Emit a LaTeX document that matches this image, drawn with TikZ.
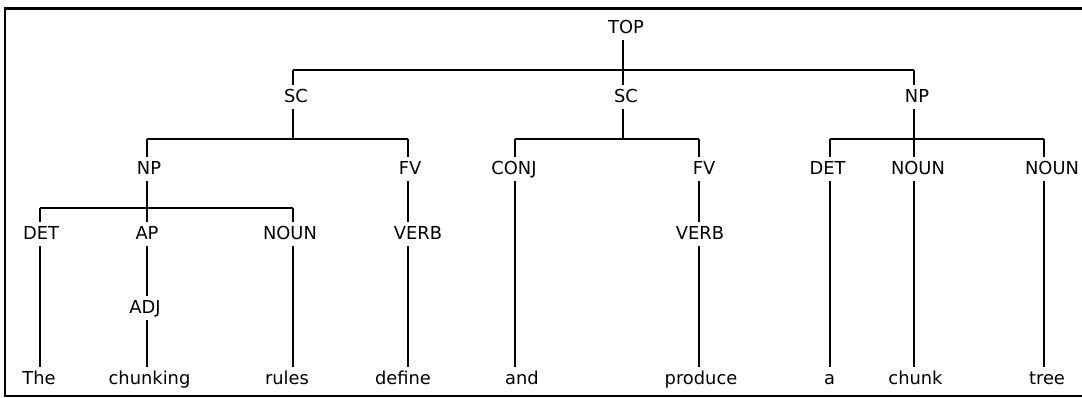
\documentclass[tikz,border=0pt]{standalone}
\usepackage{fontspec}
\setmainfont{DejaVu Sans}
\begin{document}
\begin{tikzpicture}[x=0.75pt,y=-0.75pt,
  lbl/.style={font=\fontsize{13.4pt}{16pt}\selectfont, inner xsep=0pt, inner ysep=2.75pt,
              text height=10pt, text depth=2.5pt, anchor=base},
  edge/.style={draw=black, line width=1pt}]
\useasboundingbox (0,0) rectangle (1082,397);
% frame
\draw[line width=2.25pt] (3.5,8.3) -- (1082,8.3);
\draw[line width=1.5pt] (5,7.5) -- (5,397);
\draw[line width=1.5pt] (4.5,396) -- (1082,396);
% stem columns
\coordinate (c1) at (40,0);
\coordinate (c2) at (147,0);
\coordinate (c3) at (293,0);
\coordinate (c4) at (408,0);
\coordinate (c5) at (515,0);
\coordinate (c6) at (623,0);
\coordinate (c7) at (699,0);
\coordinate (c8) at (830,0);
\coordinate (c9) at (914,0);
\coordinate (c10) at (1044,0);
% bar levels
\coordinate (b0) at (0,70);
\coordinate (b1) at (0,139);
\coordinate (b2) at (0,208);
% nodes
\node[lbl] (top) at (626,33) {TOP};
\node[lbl] (sc1) at (296,102) {SC};
\node[lbl] (sc2) at (626,102) {SC};
\node[lbl] (np1) at (917,102) {NP};
\node[lbl] (np) at (149,174) {NP};
\node[lbl] (fv1) at (410,174) {FV};
\node[lbl] (conj) at (514,174) {CONJ};
\node[lbl] (fv2) at (704,174) {FV};
\node[lbl] (det2) at (827.5,174) {DET};
\node[lbl] (noun2) at (918,174) {NOUN};
\node[lbl] (noun3) at (1052,174) {NOUN};
\node[lbl] (det) at (41,239) {DET};
\node[lbl] (ap) at (147,239) {AP};
\node[lbl] (noun) at (290,239) {NOUN};
\node[lbl] (verb1) at (418,239) {VERB};
\node[lbl] (verb2) at (700,239) {VERB};
\node[lbl] (adj) at (145,313) {ADJ};
\node[lbl] (w1) at (39,384) {The};
\node[lbl] (w2) at (149.5,384) {chunking};
\node[lbl] (w3) at (287,384) {rules};
\node[lbl] (w4) at (403,384) {define};
\node[lbl] (w5) at (522,384) {and};
\node[lbl] (w6) at (701,384) {produce};
\node[lbl] (w7) at (829.5,384) {a};
\node[lbl] (w8) at (915.5,384) {chunk};
\node[lbl] (w9) at (1047,384) {tree};
% TOP
\draw[edge] (top.south -| c6) -- (b0 -| c6);
\draw[edge] (b0 -| c3) -- (b0 -| c9);
\draw[edge] (b0 -| c3) -- (sc1.north -| c3);
\draw[edge] (b0 -| c6) -- (sc2.north -| c6);
\draw[edge] (b0 -| c9) -- (np1.north -| c9);
% SC1
\draw[edge] (sc1.south -| c3) -- (b1 -| c3);
\draw[edge] (b1 -| c2) -- (b1 -| c4);
\draw[edge] (b1 -| c2) -- (np.north -| c2);
\draw[edge] (b1 -| c4) -- (fv1.north -| c4);
% SC2
\draw[edge] (sc2.south -| c6) -- (b1 -| c6);
\draw[edge] (b1 -| c5) -- (b1 -| c7);
\draw[edge] (b1 -| c5) -- (conj.north -| c5);
\draw[edge] (b1 -| c7) -- (fv2.north -| c7);
% NP1
\draw[edge] (np1.south -| c9) -- (b1 -| c9);
\draw[edge] (b1 -| c8) -- (b1 -| c10);
\draw[edge] (b1 -| c8) -- (det2.north -| c8);
\draw[edge] (b1 -| c9) -- (noun2.north -| c9);
\draw[edge] (b1 -| c10) -- (noun3.north -| c10);
% NP
\draw[edge] (np.south -| c2) -- (b2 -| c2);
\draw[edge] (b2 -| c1) -- (b2 -| c3);
\draw[edge] (b2 -| c1) -- (det.north -| c1);
\draw[edge] (b2 -| c2) -- (ap.north -| c2);
\draw[edge] (b2 -| c3) -- (noun.north -| c3);
% single-child stems
\draw[edge] (det.south -| c1) -- (w1.north -| c1);
\draw[edge] (ap.south -| c2) -- (adj.north -| c2);
\draw[edge] (adj.south -| c2) -- (w2.north -| c2);
\draw[edge] (noun.south -| c3) -- (w3.north -| c3);
\draw[edge] (fv1.south -| c4) -- (verb1.north -| c4);
\draw[edge] (verb1.south -| c4) -- (w4.north -| c4);
\draw[edge] (conj.south -| c5) -- (w5.north -| c5);
\draw[edge] (fv2.south -| c7) -- (verb2.north -| c7);
\draw[edge] (verb2.south -| c7) -- (w6.north -| c7);
\draw[edge] (det2.south -| c8) -- (w7.north -| c8);
\draw[edge] (noun2.south -| c9) -- (w8.north -| c9);
\draw[edge] (noun3.south -| c10) -- (w9.north -| c10);
\end{tikzpicture}
\end{document}
